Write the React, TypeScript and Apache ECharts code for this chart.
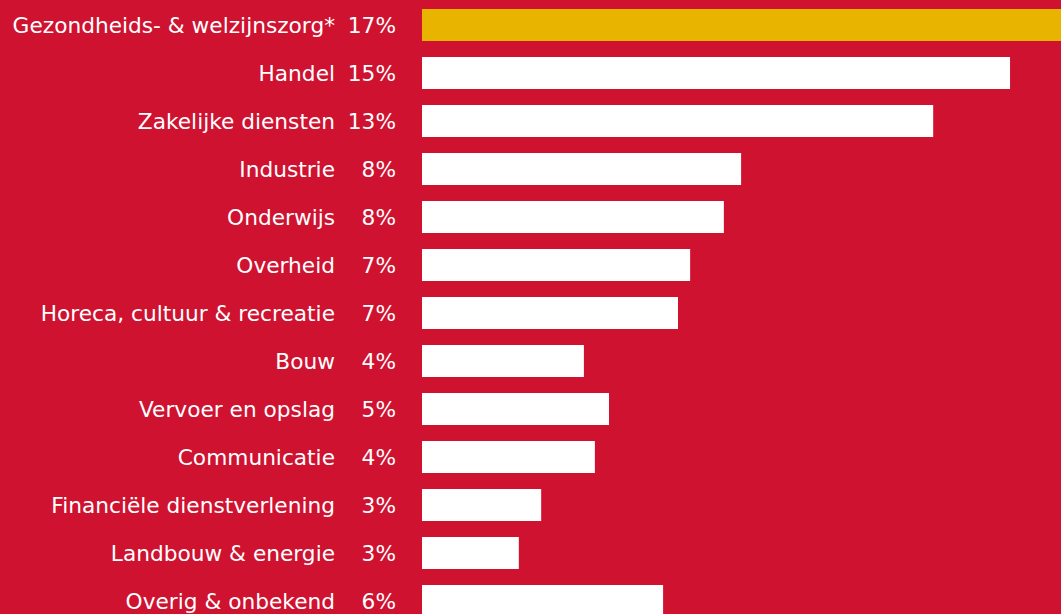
import React, { useEffect, useRef } from "react";
import * as echarts from "echarts";

const categories = [
  "Gezondheids- & welzijnszorg*",
  "Handel",
  "Zakelijke diensten",
  "Industrie",
  "Onderwijs",
  "Overheid",
  "Horeca, cultuur & recreatie",
  "Bouw",
  "Vervoer en opslag",
  "Communicatie",
  "Financiële dienstverlening",
  "Landbouw & energie",
  "Overig & onbekend",
];
const percentLabels = ["17%", "15%", "13%", "8%", "8%", "7%", "7%", "4%", "5%", "4%", "3%", "3%", "6%"];
const values = [17, 15.0, 13.04, 8.14, 7.7, 6.84, 6.53, 4.13, 4.77, 4.41, 3.04, 2.47, 6.15];

const RED = "#CF1230";
const YELLOW = "#E8B400";

export default function App() {
  const ref = useRef<HTMLDivElement>(null);
  useEffect(() => {
    if (!ref.current) return;
    const chart = echarts.init(ref.current, null, { renderer: "svg" });
    const font = "'DejaVu Sans', sans-serif";
    chart.setOption({
      animation: false,
      backgroundColor: RED,
      grid: { left: 422, right: 0, top: 1, bottom: 0, containLabel: false },
      xAxis: {
        type: "value",
        min: 0,
        max: 16.3,
        show: false,
      },
      yAxis: [
        {
          type: "category",
          data: categories,
          inverse: true,
          position: "left",
          axisLine: { show: false },
          axisTick: { show: false },
          splitLine: { show: false },
          axisLabel: { color: "#ffffff", fontSize: 21.7, fontFamily: font, margin: 87 },
        },
        {
          type: "category",
          data: percentLabels,
          inverse: true,
          position: "left",
          offset: 0,
          axisLine: { show: false },
          axisTick: { show: false },
          splitLine: { show: false },
          axisLabel: { color: "#ffffff", fontSize: 21.7, fontFamily: font, margin: 26 },
        },
      ],
      series: [
        {
          type: "bar",
          yAxisIndex: 0,
          barWidth: 32,
          clip: true,
          data: values.map((v, i) => ({
            value: v,
            itemStyle: { color: i === 0 ? YELLOW : "#ffffff" },
          })),
        },
      ],
    });
    return () => chart.dispose();
  }, []);
  return (
    <div style={{ position: "fixed", left: 0, top: 0, width: 1061, height: 614, overflow: "hidden", background: RED }}>
      <div ref={ref} style={{ width: 1061, height: 625 }} />
    </div>
  );
}
